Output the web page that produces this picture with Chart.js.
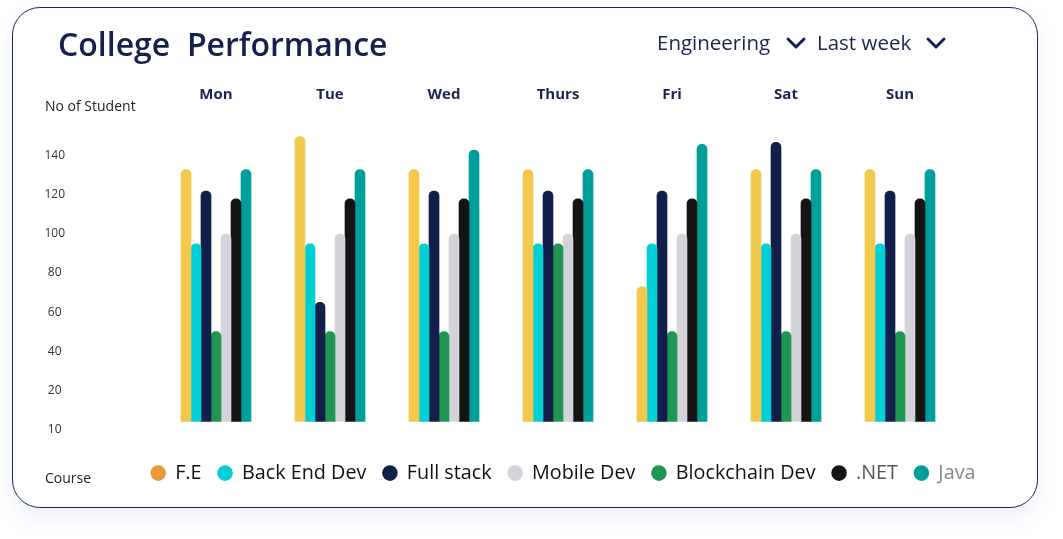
<!DOCTYPE html>
<html><head><meta charset="utf-8">
<script src="https://cdn.jsdelivr.net/npm/chart.js@4/dist/chart.umd.min.js"></script>
<style>
html,body{margin:0;padding:0;background:#fff;}
#wrap{position:relative;width:1063px;height:539px;overflow:hidden;font-family:'Open Sans',sans-serif;}
#card{position:absolute;left:12px;top:7px;width:1024px;height:499px;border:1.5px solid #1E2857;border-radius:28px;background:#fff;box-shadow:0 10px 22px rgba(70,110,200,0.10);}
#chartbox{position:absolute;left:0;top:0;width:1063px;height:539px;}
.t{position:absolute;white-space:pre;}
svg.chev{position:absolute;}
</style></head>
<body><div id="wrap">
<div id="card"></div>
<div id="chartbox"><canvas id="c"></canvas></div>
<div class="t" style="left:58px;top:23px;font-size:32px;font-weight:600;color:#16214B;line-height:42px;">College  Performance</div>
<div class="t" style="left:657px;top:28px;font-size:20.5px;color:#1B2450;line-height:28px;">Engineering</div>
<svg class="chev" style="left:785px;top:35px" width="24" height="16"><polyline points="3,4 11,12 19,4" fill="none" stroke="#131F4B" stroke-width="3" stroke-linecap="round" stroke-linejoin="round"/></svg>
<div class="t" style="left:817px;top:28px;font-size:20.5px;color:#1B2450;line-height:28px;">Last week</div>
<svg class="chev" style="left:925px;top:35px" width="24" height="16"><polyline points="3,4 11,12 19,4" fill="none" stroke="#131F4B" stroke-width="3" stroke-linecap="round" stroke-linejoin="round"/></svg>
<div class="t" style="left:45px;top:96px;font-size:14px;color:#222;line-height:20px;">No of Student</div>
<div class="t" style="left:45px;top:468px;font-size:14px;color:#222;line-height:20px;">Course</div>
</div>
<script>
const days = ['Mon','Tue','Wed','Thurs','Fri','Sat','Sun'];
const feVals        = [133,150,133,133,73,133,133];
const backEndVals   = [95,95,95,95,95,95,95];
const fullStackVals = [122,65,122,122,122,147,122];
const blockchainVals= [50,50,50,95,50,50,50];
const mobileVals    = [100,100,100,100,100,100,100];
const netVals       = [118,118,118,118,118,118,118];
const javaVals      = [133,133,143,133,146,133,133];
const yTickValues = [0,20,40,60,80,100,120,140];
const yTickLabels = ['10','20','40','60','80','100','120','140'];
const legendOrder = ['F.E','Back End Dev','Full stack','Mobile Dev','Blockchain Dev','.NET','Java'];

const seriesList = [
  {label:'F.E', data:feVals, color:'#F2C94C', dot:'#E99A38', text:'#111111'},
  {label:'Back End Dev', data:backEndVals, color:'#00CFD5', dot:'#00CFD5', text:'#111111'},
  {label:'Full stack', data:fullStackVals, color:'#131F4B', dot:'#131F4B', text:'#111111'},
  {label:'Blockchain Dev', data:blockchainVals, color:'#219653', dot:'#219653', text:'#111111'},
  {label:'Mobile Dev', data:mobileVals, color:'#D3D4D9', dot:'#D3D4D9', text:'#111111'},
  {label:'.NET', data:netVals, color:'#141414', dot:'#141414', text:'#555555'},
  {label:'Java', data:javaVals, color:'#009E9A', dot:'#009E9A', text:'#888888'}
];

const datasets = seriesList.map(s => ({
  label: s.label, data: s.data, backgroundColor: s.color,
  barThickness: 10, base: 4,
  borderRadius: {topLeft:5, topRight:5, bottomLeft:0, bottomRight:0},
  borderSkipped: 'start'
}));

new Chart(document.getElementById('c'), {
  type: 'bar',
  data: { labels: days, datasets },
  options: {
    responsive: true, maintainAspectRatio: false, animation: false, devicePixelRatio: 1,
    layout: { padding: { top: 77, left: 30, right: 71, bottom: 46 } },
    scales: {
      x: {
        position: 'top',
        grid: { display: false, drawTicks: false }, border: { display: false },
        ticks: { color: '#1B2450', font: { family: 'Open Sans', size: 15, weight: 'bold' }, padding: 13 },
        afterFit: (s) => { s.height = 40; }
      },
      y: {
        min: -9, max: 160,
        grid: { display: false, drawTicks: false }, border: { display: false },
        afterBuildTicks: (s) => { s.ticks = yTickValues.map(v => ({ value: v })); },
        ticks: {
          crossAlign: 'center', padding: 94, color: '#333333',
          font: { family: 'Open Sans', size: 12 },
          callback: (v) => yTickLabels[yTickValues.indexOf(v)]
        },
        afterFit: (s) => { s.width = 129; s.paddingTop = 0; s.paddingBottom = 0; }
      },
      ySpace: {
        position: 'right', display: true,
        grid: { display: false, drawTicks: false }, border: { display: false },
        ticks: { display: false },
        afterFit: (s) => { s.width = 35; s.paddingTop = 0; s.paddingBottom = 0; }
      }
    },
    plugins: {
      tooltip: { enabled: false },
      legend: {
        position: 'bottom', align: 'end',
        labels: {
          usePointStyle: true, pointStyle: 'circle', boxWidth: 14, boxHeight: 11, padding: 16.5,
          font: { family: 'Open Sans', size: 19.8 },
          generateLabels: (chart) => legendOrder.map(name => {
            const i = seriesList.findIndex(s => s.label === name);
            const s = seriesList[i];
            return { text: s.label, fillStyle: s.dot, strokeStyle: s.dot, lineWidth: 0,
                     fontColor: s.text, pointStyle: 'circle', hidden: false, datasetIndex: i };
          })
        }
      }
    }
  }
});
</script>
</body></html>
